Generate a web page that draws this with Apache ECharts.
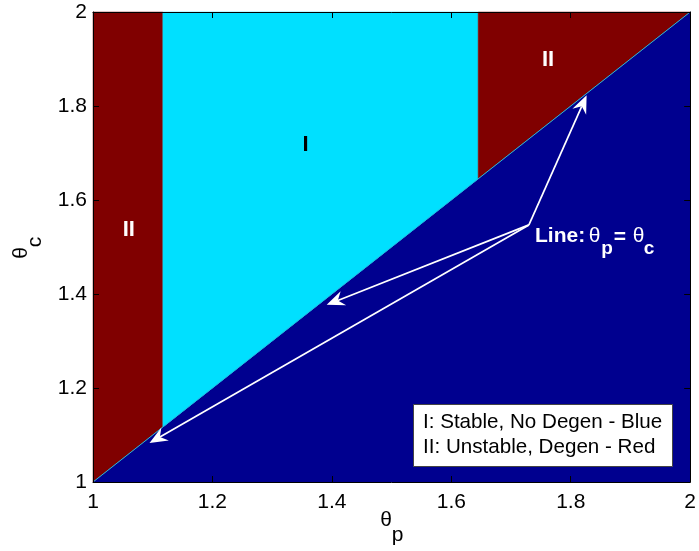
<!DOCTYPE html>
<html>
<head>
<meta charset="utf-8">
<script src="https://cdn.jsdelivr.net/npm/echarts@6/dist/echarts.min.js"></script>
<style>
  html, body { margin: 0; padding: 0; background: #fff; }
  #chart { width: 699px; height: 551px; }
</style>
</head>
<body>
<div id="chart"></div>
<script>
// Stability regions in the (theta_p, theta_c) plane
const thetaTicks = [1, 1.2, 1.4, 1.6, 1.8, 2];
const regionBelowLine = [[1, 1], [2, 1], [2, 2]];
const regionIILeft = [[1, 1], [1, 2], [1.117, 2], [1.117, 1.117]];
const regionI = [[1.117, 1.117], [1.117, 2], [1.645, 2], [1.645, 1.645]];
const regionIIRight = [[1.645, 1.645], [1.645, 2], [2, 2]];
const equalLine = [[1, 1], [2, 2]];

// Arrows from the "Line" note to the theta_p = theta_c line
const arrowStart = [1.730, 1.547];
const arrowTips = [[1.8266, 1.8227], [1.3913, 1.3769], [1.0946, 1.083]];

// Region labels: x, y, text, colour
const labelX = [1.356, 1.0599, 1.762];
const labelY = [1.7176, 1.537, 1.897];
const labelText = ['I', 'II', 'II'];
const labelColor = ['#000', '#fff', '#fff'];

const COLORS = { blue: '#00008F', red: '#800000', cyan: '#00E0FF' };
const FONT = "'Liberation Sans', Arial, Helvetica, sans-serif";

const regions = [
  { pts: regionBelowLine, color: COLORS.blue },
  { pts: regionIILeft, color: COLORS.red },
  { pts: regionI, color: COLORS.cyan },
  { pts: regionIIRight, color: COLORS.red }
];

const chart = echarts.init(document.getElementById('chart'), null, { renderer: 'canvas' });

function tickLabel(v) {
  const t = thetaTicks.find(k => Math.abs(k - v) < 1e-9);
  return t === undefined ? '' : String(t);
}

function axisCommon(position, labelMargin) {
  return {
    type: 'value', min: 1, max: 2, interval: 0.2, z: 5, position: position,
    axisLine: { show: true, onZero: false, lineStyle: { color: '#000', width: 1 } },
    axisTick: { show: true, inside: true, length: 6, lineStyle: { color: '#000', width: 1 } },
    splitLine: { show: false },
    axisLabel: labelMargin == null ? { show: false } : {
      show: true, margin: labelMargin, color: '#000', fontSize: 21, fontFamily: FONT, formatter: tickLabel
    }
  };
}

const option = {
  animation: false,
  backgroundColor: '#fff',
  grid: { left: 93, right: 8, top: 12, bottom: 69, containLabel: false },
  xAxis: [axisCommon('bottom', 10), axisCommon('top', null)],
  yAxis: [axisCommon('left', 6), axisCommon('right', null)],
  series: [
    {
      type: 'custom', name: 'regions', z: 1,
      data: regions.map((r, i) => [i]),
      renderItem: (params, api) => {
        const r = regions[params.dataIndex];
        return {
          type: 'polygon',
          shape: { points: r.pts.map(p => api.coord(p)) },
          style: { fill: r.color, stroke: r.color, lineWidth: 0.5 }
        };
      }
    },
    {
      type: 'custom', name: 'equal line', z: 2,
      data: [[0]],
      renderItem: (params, api) => {
        const a = api.coord(equalLine[0]), b = api.coord(equalLine[1]);
        return {
          type: 'line',
          shape: { x1: a[0], y1: a[1], x2: b[0], y2: b[1] },
          style: { stroke: '#1FB8E0', lineWidth: 1 }
        };
      }
    },
    {
      type: 'custom', name: 'arrows', z: 3,
      data: arrowTips.map(t => [arrowStart[0], arrowStart[1], t[0], t[1]]),
      renderItem: (params, api) => {
        const p0 = api.coord([api.value(0), api.value(1)]);
        const p1 = api.coord([api.value(2), api.value(3)]);
        const dx = p1[0] - p0[0], dy = p1[1] - p0[1];
        const len = Math.hypot(dx, dy);
        const ux = dx / len, uy = dy / len, nx = -uy, ny = ux;
        const L = 18, W = 7.5, N = 12;
        const bx = p1[0] - ux * L, by = p1[1] - uy * L;
        const notch = [p1[0] - ux * N, p1[1] - uy * N];
        return {
          type: 'group',
          children: [
            { type: 'line', shape: { x1: p0[0], y1: p0[1], x2: notch[0], y2: notch[1] },
              style: { stroke: '#fff', lineWidth: 1.7 } },
            { type: 'polygon',
              shape: { points: [p1, [bx + nx * W, by + ny * W], notch, [bx - nx * W, by - ny * W]] },
              style: { fill: '#fff' } }
          ]
        };
      }
    },
    {
      type: 'custom', name: 'region labels', z: 4,
      data: labelX.map((x, i) => [x, labelY[i], i]),
      renderItem: (params, api) => {
        const p = api.coord([api.value(0), api.value(1)]);
        const i = params.dataIndex;
        return {
          type: 'text', x: p[0], y: p[1],
          style: {
            text: labelText[i], fill: labelColor[i],
            font: `bold 22px ${FONT}`, align: 'center', verticalAlign: 'middle'
          }
        };
      }
    }
  ],
  graphic: [
    // axis titles
    { type: 'text', x: 386, y: 520, style: { text: 'θ', font: `21px ${FONT}`, fill: '#000', align: 'center', verticalAlign: 'middle' } },
    { type: 'text', x: 397.5, y: 535, style: { text: 'p', font: `21px ${FONT}`, fill: '#000', align: 'center', verticalAlign: 'middle' } },
    { type: 'text', x: 21, y: 253, rotation: Math.PI / 2, style: { text: 'θ', font: `21px ${FONT}`, fill: '#000', align: 'center', verticalAlign: 'middle' } },
    { type: 'text', x: 35, y: 242, rotation: Math.PI / 2, style: { text: 'c', font: `21px ${FONT}`, fill: '#000', align: 'center', verticalAlign: 'middle' } },
    // note for the theta_p = theta_c line
    { type: 'text', x: 535, y: 236, z: 10, style: { text: 'Line:', font: `bold 21px ${FONT}`, fill: '#fff', align: 'left', verticalAlign: 'middle' } },
    { type: 'text', x: 594.5, y: 236, z: 10, style: { text: 'θ', font: `21px ${FONT}`, fill: '#fff', align: 'center', verticalAlign: 'middle' } },
    { type: 'text', x: 607, y: 249, z: 10, style: { text: 'p', font: `bold 19px ${FONT}`, fill: '#fff', align: 'center', verticalAlign: 'middle' } },
    { type: 'text', x: 620, y: 237, z: 10, style: { text: '=', font: `bold 21px ${FONT}`, fill: '#fff', align: 'center', verticalAlign: 'middle' } },
    { type: 'text', x: 638.5, y: 236, z: 10, style: { text: 'θ', font: `21px ${FONT}`, fill: '#fff', align: 'center', verticalAlign: 'middle' } },
    { type: 'text', x: 649, y: 249, z: 10, style: { text: 'c', font: `bold 19px ${FONT}`, fill: '#fff', align: 'center', verticalAlign: 'middle' } },
    // key box
    { type: 'rect', z: 10, shape: { x: 413.5, y: 404.5, width: 259, height: 62 }, style: { fill: '#fff', stroke: '#444', lineWidth: 1 } },
    { type: 'text', z: 11, x: 423, y: 422, style: { text: 'I: Stable, No Degen - Blue', font: `20.6px ${FONT}`, fill: '#000', align: 'left', verticalAlign: 'middle' } },
    { type: 'text', z: 11, x: 423, y: 447, style: { text: 'II: Unstable, Degen - Red', font: `20.6px ${FONT}`, fill: '#000', align: 'left', verticalAlign: 'middle' } }
  ]
};

chart.setOption(option);
</script>
</body>
</html>
